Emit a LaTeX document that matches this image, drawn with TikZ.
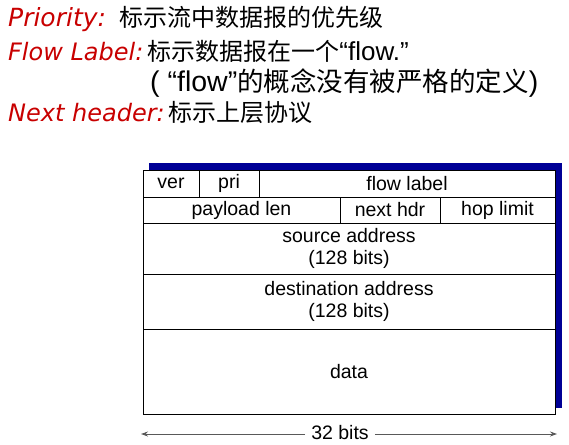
\documentclass[tikz,border=0pt]{standalone}
\usepackage{fontspec}
\setmainfont{Liberation Sans}
\newfontfamily\cjk{Noto Sans CJK SC}
\newfontfamily\labfont{DejaVu Sans}
\usepackage{xcolor}
\usetikzlibrary{arrows.meta,positioning}
\definecolor{labred}{RGB}{200,0,0}
\definecolor{shadowblue}{RGB}{0,0,150}

\begin{document}
\begin{tikzpicture}[
  x=1pt, y=-1pt,
  every node/.style={font=\fontsize{19.5}{22}\selectfont},
  line/.style={anchor=base west, inner sep=0pt, font=\fontsize{24}{28}\selectfont},
  big/.style={font=\fontsize{28.5}{30}\selectfont},
  cell/.style={draw, line width=1pt, fill=white, inner sep=0pt},
  dim/.style={-{Stealth[length=7pt, width=5pt]}, gray!70!black, line width=0.9pt}
]
\useasboundingbox (0,0) rectangle (569,444);

% field descriptions
\node[line] (prio) at (8,27)
  {\textcolor{labred}{\labfont\itshape\fontsize{25}{28}\selectfont Priority:}\ \ {\cjk 标示流中数据报的优先级}};
\node[line] (flow) at (8,60)
  {\textcolor{labred}{\labfont\itshape Flow Label:}\,{\cjk 标示数据报在一个}{\fontsize{26}{28}\selectfont“flow.”}};
\node[line, big] (note) at (150,91)
  {( “flow”{\cjk\fontsize{26.5}{30}\selectfont 的概念没有被严格的定义})};
\node[line] (next) at (8,121)
  {\textcolor{labred}{\labfont\itshape Next header:}\,{\cjk 标示上层协议}};

% datagram format
\fill[shadowblue] (149,163) rectangle (562,408);
\node[cell, minimum width=56pt,  minimum height=27pt] (ver)  at (171,183.5) {ver};
\node[cell, minimum width=60pt,  minimum height=27pt] (pri)  at (229,183.5) {pri};
\node[cell, minimum width=296pt, minimum height=27pt] (fl)   at (407,183.5) {flow label};
\node[cell, minimum width=197pt, minimum height=26pt] (len)  at (241.5,210) {payload len};
\node[cell, minimum width=100pt, minimum height=26pt] (nhdr) at (390,210) {next hdr};
\node[cell, minimum width=115pt, minimum height=26pt] (hop)  at (497.5,210) {hop limit};
\node[cell, minimum width=412pt, minimum height=51pt, align=center] (src) at (349,248.5)
  {source address\\(128 bits)};
\node[cell, minimum width=412pt, minimum height=55pt, align=center] (dst) at (349,301.5)
  {destination address\\(128 bits)};
\node[cell, minimum width=412pt, minimum height=85pt] (data) at (349,371.5) {data};

% width
\coordinate (wl) at (141,434);
\coordinate (wr) at (557,434);
\node[inner sep=6pt] (bits) at (340,433) {32 bits};
\draw[dim] (bits.west |- wl) -- (wl);
\draw[dim] (bits.east |- wr) -- (wr);
\end{tikzpicture}
\end{document}
